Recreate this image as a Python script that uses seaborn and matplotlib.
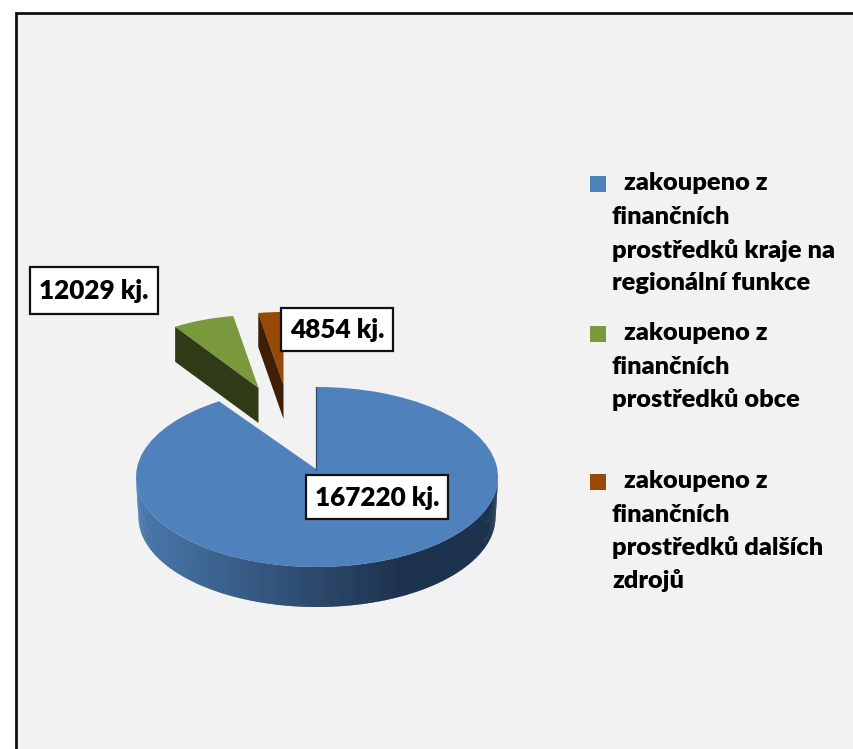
import numpy as np
import matplotlib
matplotlib.use("Agg")
import matplotlib.pyplot as plt
from matplotlib.patches import Rectangle, Polygon
from matplotlib.transforms import Affine2D
from matplotlib.colors import to_rgb
import seaborn as sns

# ---- data ----
categories = [
    ["zakoupeno z", "finančních", "prostředků kraje na", "regionální funkce"],
    ["zakoupeno z", "finančních", "prostředků obce"],
    ["zakoupeno z", "finančních", "prostředků dalších", "zdrojů"],
]
values = [167220, 12029, 4854]
value_labels = ["167220 kj.", "12029 kj.", "4854 kj."]

# ---- style ----
top_colors = sns.color_palette(["#4f81bd", "#7a983c", "#984807"])
wall_colors = ["#4a78ac", "#2f3a16", "#3f1f06"]
wall_dark = "#1d324d"
BG = "#f2f2f2"
FONT = "Lato"

sns.set_theme(style="white")
plt.rcParams["font.family"] = [FONT, "DejaVu Sans"]

fig = plt.figure(figsize=(8.54, 7.49), dpi=100, facecolor="white")
ax = fig.add_axes([0, 0, 1, 1])

wedges, _ = ax.pie(values, colors=top_colors, startangle=90, counterclock=False,
                   wedgeprops=dict(linewidth=0))
ax.set_xlim(0, 854)
ax.set_ylim(749, 0)
ax.set_aspect("auto")
ax.axis("off")

ax.add_patch(Rectangle((16.5, 12.5), 860, 760, facecolor=BG, edgecolor="#111111",
                       linewidth=2, zorder=0))

# placement of the slices on the page: centre x, centre y, radius x, radius y, depth
geom = [(317, 477, 181, 90, 40), (258.5, 388, 153, 73, 35), (283.5, 385, 153, 73, 34)]


def rim(g, theta, dy=0.0, shrink=0.0):
    cx, cy, rx, ry, _ = g
    t = np.radians(theta)
    return np.column_stack([cx + (rx - shrink) * np.cos(t), cy - ry * np.sin(t) + dy])


for w, g in zip(wedges, geom):
    cx, cy, rx, ry, _ = g
    w.set_transform(Affine2D().scale(rx, -ry).translate(cx, cy) + ax.transData)
    w.set_zorder(3)

# blue wall: shaded strips along the front rim
g = geom[0]
edges = np.linspace(180, 360, 181)
c0, c1 = np.array(to_rgb(wall_colors[0])), np.array(to_rgb(wall_dark))
for a, b in zip(edges[:-1], edges[1:]):
    th = np.linspace(a, b + 0.6, 4)
    upper = rim(g, th)
    lower = rim(g, th, dy=g[4], shrink=2.5)
    x_mid = upper[:, 0].mean()
    f = np.clip((x_mid - 137) / (403 - 137), 0, 1)
    ax.add_patch(Polygon(np.vstack([upper, lower[::-1]]), closed=True,
                         facecolor=c0 + (c1 - c0) * f, edgecolor="none", zorder=2))

# blue top: notch apex sits a little above the ellipse centre
apex = (316.5, 470)
top_pt = rim(g, wedges[0].theta2)[0]
end_pt = rim(g, wedges[0].theta1)[0]
ax.add_patch(Polygon([top_pt, apex, end_pt, (g[0], g[1])], closed=True,
                     facecolor=top_colors[0], edgecolor=top_colors[0], linewidth=0.8, zorder=3))
ax.plot([top_pt[0] - 0.5, apex[0]], [top_pt[1], apex[1]], color="#2c4a6e", lw=0.9, zorder=4)

# walls of the two pulled-out slices, visible along their left cut
for i in (1, 2):
    w, g = wedges[i], geom[i]
    outer = rim(g, w.theta2)[0]
    d = g[4]
    ax.add_patch(Polygon([outer, (g[0], g[1]), (g[0], g[1] + d), (outer[0], outer[1] + d)],
                         closed=True, facecolor=wall_colors[i], edgecolor="none", zorder=5))

# value labels
boxes = [(306, 475, 142, 44), (30, 267, 128, 47), (281, 308, 112, 43)]
for lab, (x, y, bw, bh) in zip(value_labels, boxes):
    ax.add_patch(Rectangle((x, y), bw, bh, facecolor="white", edgecolor="#111111",
                           linewidth=1.6, zorder=6))
    ax.text(x + bw / 2, y + bh / 2 + 0.5, lab, ha="center", va="center", fontsize=18.8,
            fontweight="heavy", color="black", zorder=7)

# legend
legend_rows = [[183.5, 217.5, 250.5, 283.5], [333.5, 366.5, 399.5], [481.5, 514.5, 547.5, 580.5]]
for lines, rows, col in zip(categories, legend_rows, top_colors):
    ax.add_patch(Rectangle((590, rows[0] - 8), 16, 16, facecolor=col, edgecolor="none", zorder=3))
    for k, (txt, y) in enumerate(zip(lines, rows)):
        ax.text(624 if k == 0 else 612, y, txt, ha="left", va="center", fontsize=18.3,
                fontweight="heavy", color="black", zorder=3)

fig.savefig("out.png", dpi=100, facecolor="white")
